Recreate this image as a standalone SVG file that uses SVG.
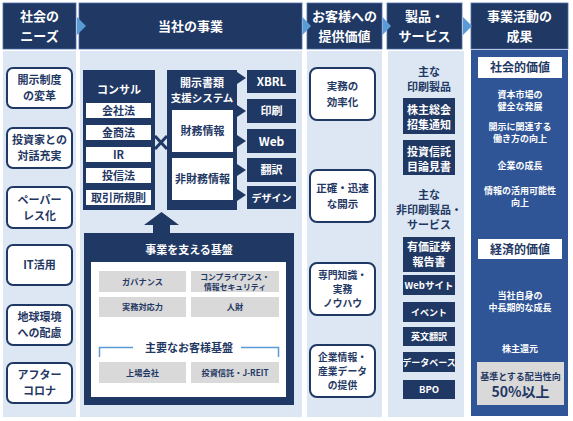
<svg xmlns="http://www.w3.org/2000/svg" width="573" height="421" viewBox="0 0 573 421">
<style>
text{font-family:"Noto Sans CJK JP","Noto Sans",sans-serif;font-weight:bold;text-anchor:middle}
.hdr{fill:#1f3864;stroke:#4f6fa8;stroke-width:0.8}
.ht{fill:#fff;font-size:13px}
.bg{fill:#dde7f3}
.need{fill:#fff;stroke:#1f3864;stroke-width:2}
.nt{fill:#1f3864;font-size:11px}
.vt{fill:#1f3864;font-size:10.5px}
.v3{fill:#1f3864;font-size:9.8px}
.navy{fill:#1f3864}
.wb{fill:#fff}
.gray{fill:#d9d9d9}
.gt{fill:#1f3864;font-size:8.2px}
.wt{fill:#fff;font-size:11px}
.bt{fill:#1f3864;font-size:11px}
.st{fill:#fff;font-size:9px}
.tri{fill:#5b9bd5}
</style>
<rect width="573" height="421" fill="#fff"/>
<g id="backgrounds">
<rect class="bg" x="3" y="51" width="73" height="366"/>
<rect class="bg" x="80" y="51" width="222" height="366"/>
<rect class="bg" x="307" y="51" width="75" height="366"/>
<rect class="bg" x="388" y="51" width="76" height="366"/>
<rect x="471" y="50" width="97" height="366" fill="#2f5597"/>
</g>
<g id="headers">
<rect class="hdr" x="3" y="3" width="73" height="46"/>
<text class="ht" x="39.5" y="21">社会の</text>
<text class="ht" x="39.5" y="40.5">ニーズ</text>
<rect class="hdr" x="79" y="3" width="223" height="46"/>
<text class="ht" x="190.5" y="30.5">当社の事業</text>
<rect class="hdr" x="307" y="3" width="75" height="46"/>
<text class="ht" x="344.5" y="21">お客様への</text>
<text class="ht" x="344.5" y="40.5">提供価値</text>
<rect class="hdr" x="387" y="3" width="75" height="46"/>
<text class="ht" x="424.5" y="21">製品・</text>
<text class="ht" x="424.5" y="40.5">サービス</text>
<rect class="hdr" x="471" y="3" width="97" height="46"/>
<text class="ht" x="519.5" y="21">事業活動の</text>
<text class="ht" x="519.5" y="40.5">成果</text>
<polygon class="tri" points="77,17 86,26 77,35"/>
<polygon class="tri" points="302.5,17 311,26 302.5,35"/>
<polygon class="tri" points="382.5,17 391,26 382.5,35"/>
<polygon class="tri" points="463,17 472,26 463,35"/>
</g>
<g id="need1"><rect class="need" x="7" y="68" width="65" height="40" rx="6"/><text class="nt" x="39.5" y="84">開示制度</text><text class="nt" x="39.5" y="100">の変革</text></g>
<g id="need2"><rect class="need" x="7" y="128" width="65" height="40" rx="6"/><text class="nt" x="39.5" y="144">投資家との</text><text class="nt" x="39.5" y="160">対話充実</text></g>
<g id="need3"><rect class="need" x="7" y="187" width="65" height="41" rx="6"/><text class="nt" x="39.5" y="203.5">ペーパー</text><text class="nt" x="39.5" y="219.5">レス化</text></g>
<g id="need4"><rect class="need" x="7" y="245" width="65" height="40" rx="6"/><text class="nt" x="39.5" y="269">IT活用</text></g>
<g id="need5"><rect class="need" x="7" y="305" width="65" height="40" rx="6"/><text class="nt" x="39.5" y="321">地球環境</text><text class="nt" x="39.5" y="337">への配慮</text></g>
<g id="need6"><rect class="need" x="7" y="363" width="65" height="40" rx="6"/><text class="nt" x="39.5" y="379">アフター</text><text class="nt" x="39.5" y="395">コロナ</text></g>
<g id="consul">
<rect class="navy" x="83" y="70" width="72" height="140"/>
<text class="wt" x="119" y="94">コンサル</text>
<rect class="wb" x="86" y="103" width="65" height="15"/><text class="bt" x="118.5" y="114.5">会社法</text>
<rect class="wb" x="86" y="125" width="65" height="15"/><text class="bt" x="118.5" y="136.5">金商法</text>
<rect class="wb" x="86" y="147" width="65" height="15"/><text class="bt" x="118.5" y="158.5">IR</text>
<rect class="wb" x="86" y="168" width="65" height="15"/><text class="bt" x="118.5" y="179.5">投信法</text>
<rect class="wb" x="86" y="190" width="65" height="15"/><text class="bt" x="118.5" y="201.5">取引所規則</text>
</g>
<g id="system">
<rect class="navy" x="167" y="70" width="70" height="140"/>
<text class="wt" x="202" y="86.5">開示書類</text>
<text class="wt" x="202" y="101.5" style="font-size:10.5px">支援システム</text>
<rect class="wb" x="172" y="110" width="61" height="42"/><text class="bt" x="202.5" y="135">財務情報</text>
<rect class="wb" x="172" y="158" width="61" height="42"/><text class="bt" x="202.5" y="183">非財務情報</text>
</g>
<g id="outputs">
<rect class="navy" x="247" y="70" width="49" height="23"/><text class="wt" x="271.5" y="86" style="font-size:11.5px">XBRL</text>
<rect class="navy" x="247" y="99" width="49" height="24"/><text class="wt" x="271.5" y="115">印刷</text>
<rect class="navy" x="247" y="129" width="49" height="24"/><text class="wt" x="271.5" y="145.5" style="font-size:12px">Web</text>
<rect class="navy" x="247" y="158" width="49" height="24"/><text class="wt" x="271.5" y="174">翻訳</text>
<rect class="navy" x="247" y="186" width="49" height="23"/><text class="wt" x="271.5" y="201.5" style="font-size:10px">デザイン</text>
</g>
<g id="foundation">
<rect class="navy" x="84" y="233" width="210" height="172"/>
<text class="wt" x="189" y="254">事業を支える基盤</text>
<rect class="wb" x="91" y="262" width="195" height="135"/>
<rect class="gray" x="99" y="271" width="87" height="21"/><text class="gt" x="142.5" y="284.5">ガバナンス</text>
<rect class="gray" x="191" y="271" width="88" height="21"/><text class="gt" x="235" y="280" style="font-size:7.8px">コンプライアンス・</text><text class="gt" x="235" y="290" style="font-size:7.8px">情報セキュリティ</text>
<rect class="gray" x="99" y="297" width="87" height="20"/><text class="gt" x="142.5" y="310">実務対応力</text>
<rect class="gray" x="191" y="297" width="88" height="20"/><text class="gt" x="235" y="310">人財</text>
<path d="M99.5,357 V347.5 H133 M278.5,357 V347.5 H241" fill="none" stroke="#5b9bd5" stroke-width="1.5"/>
<text class="bt" x="189" y="352">主要なお客様基盤</text>
<rect class="gray" x="99" y="362" width="87" height="21"/><text class="gt" x="142.5" y="375.5">上場会社</text>
<rect class="gray" x="191" y="362" width="88" height="21"/><text class="gt" x="235" y="375.5">投資信託・J-REIT</text>
</g>
<g id="connectors">
<path d="M155,136 L167,149 M155,149 L167,136" stroke="#1f3864" stroke-width="3" fill="none"/>
<polygon class="navy" points="237,72 246,78 237,84"/>
<polygon class="navy" points="237,105 246,111 237,117"/>
<polygon class="navy" points="237,135 246,141 237,147"/>
<polygon class="navy" points="237,164 246,170 237,176"/>
<polygon class="navy" points="237,189 246,195 237,201"/>
<polygon class="navy" points="161.5,212 179,225 170,225 170,234 153,234 153,225 144,225"/>
</g>
<g id="value1"><rect class="need" x="310" y="68" width="65" height="52" rx="7"/><text class="vt" x="342.5" y="89.5">実務の</text><text class="vt" x="342.5" y="105.5">効率化</text></g>
<g id="value2"><rect class="need" x="310" y="170" width="65" height="52" rx="7"/><text class="vt" x="342.5" y="191.5">正確・迅速</text><text class="vt" x="342.5" y="207.5">な開示</text></g>
<g id="value3"><rect class="need" x="310" y="263" width="65" height="52" rx="7"/><text class="v3" x="342.5" y="279">専門知識・</text><text class="v3" x="342.5" y="293">実務</text><text class="v3" x="342.5" y="307">ノウハウ</text></g>
<g id="value4"><rect class="need" x="310" y="345" width="65" height="52" rx="7"/><text class="v3" x="342.5" y="361">企業情報・</text><text class="v3" x="342.5" y="375">産業データ</text><text class="v3" x="342.5" y="389">の提供</text></g>
<g id="products">
<text class="bt" x="429" y="76">主な</text>
<text class="bt" x="429" y="91">印刷製品</text>
<rect class="navy" x="403" y="98" width="52" height="36"/><text class="wt" x="429" y="114">株主総会</text><text class="wt" x="429" y="129">招集通知</text>
<rect class="navy" x="403" y="140" width="52" height="35"/><text class="wt" x="429" y="156">投資信託</text><text class="wt" x="429" y="171">目論見書</text>
<text class="bt" x="429" y="199">主な</text>
<text class="bt" x="429" y="214">非印刷製品・</text>
<text class="bt" x="429" y="229">サービス</text>
<rect class="navy" x="403" y="237" width="52" height="35"/><text class="wt" x="429" y="251">有価証券</text><text class="wt" x="429" y="266">報告書</text>
<rect class="navy" x="403" y="275" width="52" height="20"/><text class="wt" x="429" y="289" style="font-size:9.5px">Webサイト</text>
<rect class="navy" x="403" y="302" width="52" height="20"/><text class="wt" x="429" y="315.5" style="font-size:9px">イベント</text>
<rect class="navy" x="403" y="327" width="52" height="19"/><text class="wt" x="429" y="339.5" style="font-size:9px">英文翻訳</text>
<rect class="navy" x="403" y="352" width="52" height="20"/><text class="wt" x="429" y="365.5" style="font-size:9px">データベース</text>
<rect class="navy" x="403" y="380" width="52" height="19"/><text class="wt" x="429" y="393" style="font-size:9.5px">BPO</text>
</g>
<g id="results">
<rect class="wb" x="478" y="57" width="84" height="21"/><text class="bt" x="520" y="72" style="font-size:12px">社会的価値</text>
<text class="st" x="520" y="98">資本市場の</text>
<text class="st" x="520" y="110">健全な発展</text>
<text class="st" x="520" y="130">開示に関連する</text>
<text class="st" x="520" y="142">働き方の向上</text>
<text class="st" x="520" y="168.5">企業の成長</text>
<text class="st" x="520" y="194">情報の活用可能性</text>
<text class="st" x="520" y="206">向上</text>
<rect class="wb" x="478" y="239" width="84" height="20"/><text class="bt" x="520" y="253.5" style="font-size:12px">経済的価値</text>
<text class="st" x="520" y="299">当社自身の</text>
<text class="st" x="520" y="311">中長期的な成長</text>
<text class="st" x="520" y="351.5">株主還元</text>
<rect class="gray" x="477" y="362" width="87" height="43"/>
<text class="bt" x="520.5" y="379.5" style="font-size:9px">基準とする配当性向</text>
<text class="bt" x="520.5" y="397" style="font-size:14px">50%以上</text>
</g>
</svg>
